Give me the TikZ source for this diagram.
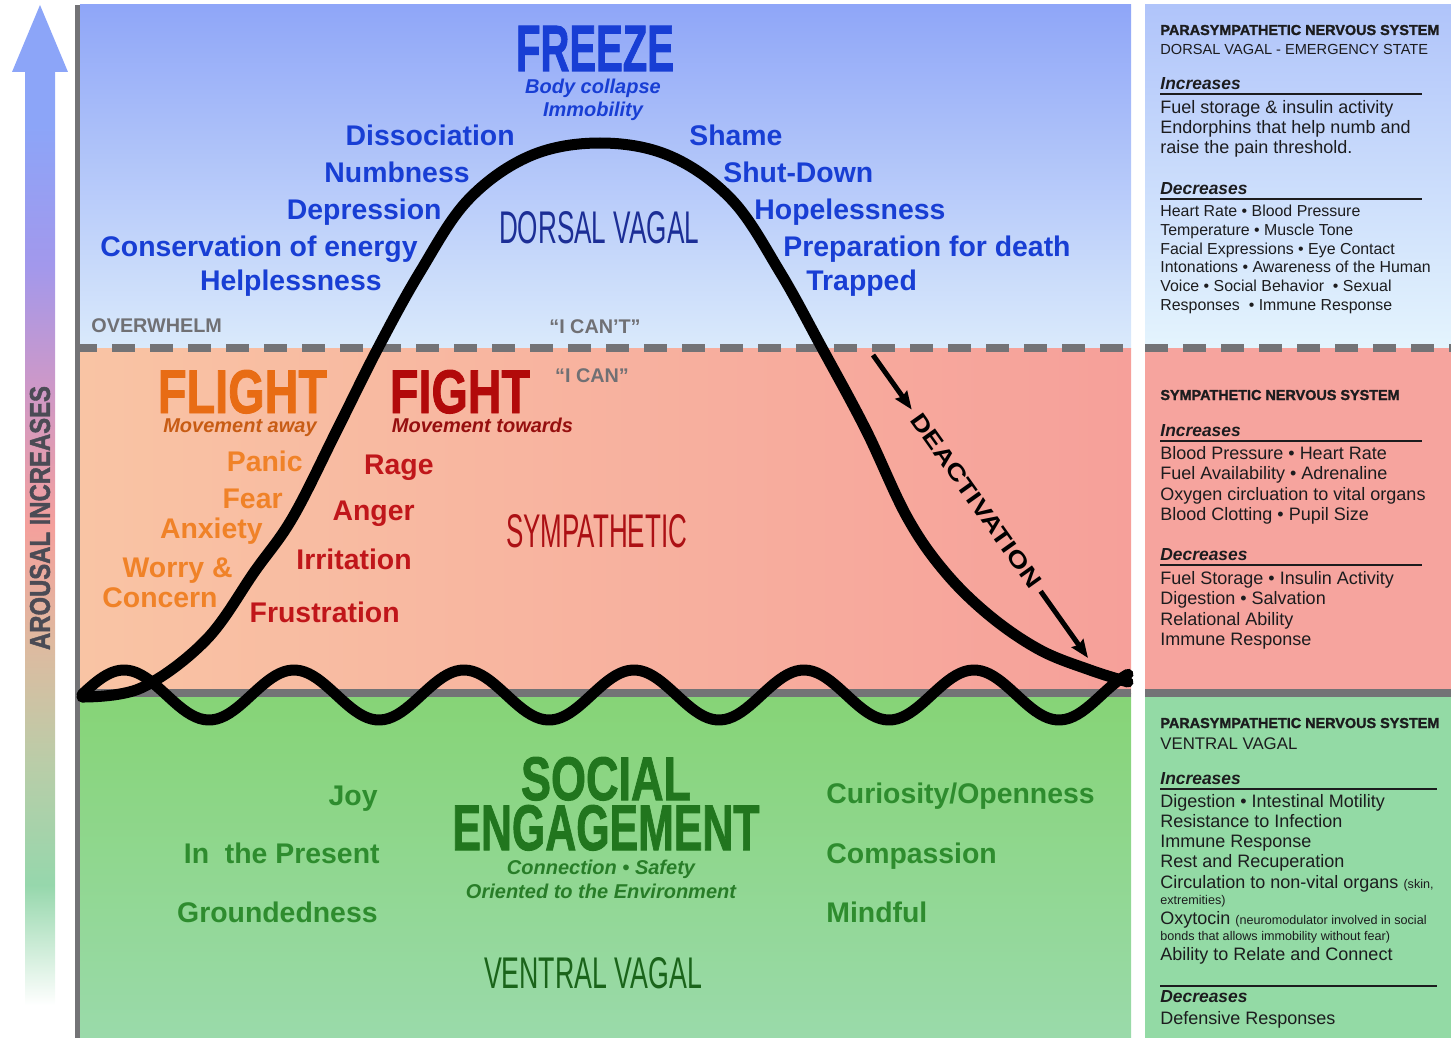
\documentclass[tikz,border=0pt]{standalone}
\usepackage{fontspec}
\setmainfont{Liberation Sans}
\newfontfamily\heavyfont[BoldFeatures={FakeBold=1.6}]{Liberation Sans}
\usepackage{graphicx}
\usetikzlibrary{arrows.meta,positioning,calc}

\definecolor{freezeblue}{RGB}{24,62,212}
\definecolor{dorsalnavy}{RGB}{28,46,150}
\definecolor{capgray}{RGB}{112,112,116}
\definecolor{flightorange}{RGB}{232,108,20}
\definecolor{flightsub}{RGB}{200,92,20}
\definecolor{flightword}{RGB}{240,130,40}
\definecolor{fightred}{RGB}{178,10,10}
\definecolor{fightsub}{RGB}{150,15,15}
\definecolor{fightword}{RGB}{192,22,26}
\definecolor{sympred}{RGB}{172,16,20}
\definecolor{socialgreen}{RGB}{33,118,30}
\definecolor{socialsub}{RGB}{40,125,40}
\definecolor{calmgreen}{RGB}{46,140,46}
\definecolor{ventralgreen}{RGB}{26,100,26}
\definecolor{panelink}{RGB}{28,28,30}
\definecolor{linegray}{RGB}{115,115,118}
\definecolor{arrowink}{RGB}{75,75,85}
\definecolor{frzTop}{RGB}{143,166,248}
\definecolor{frzBot}{RGB}{218,234,251}
\definecolor{sympLeft}{RGB}{249,196,164}
\definecolor{sympRight}{RGB}{246,160,154}
\definecolor{ventTop}{RGB}{134,212,118}
\definecolor{ventBot}{RGB}{154,218,170}
\definecolor{panelTop}{RGB}{176,196,250}
\definecolor{panelBot}{RGB}{228,244,253}
\definecolor{panelPink}{RGB}{246,164,158}
\definecolor{panelGreen}{RGB}{147,218,165}
\definecolor{arGreen}{RGB}{150,215,172}
\definecolor{arSage}{RGB}{185,205,168}
\definecolor{arTan}{RGB}{222,186,160}
\definecolor{arPink}{RGB}{244,160,156}
\definecolor{arMauve}{RGB}{205,152,200}
\definecolor{arViolet}{RGB}{162,152,236}
\definecolor{arBlue}{RGB}{140,165,248}

\pgfdeclareverticalshading{arousal}{100bp}{color(0bp)=(white); color(25bp)=(white); color(31bp)=(arGreen); color(37bp)=(arSage); color(43bp)=(arTan); color(49bp)=(arPink); color(56bp)=(arMauve); color(62bp)=(arViolet); color(69bp)=(arBlue); color(100bp)=(arBlue)}

\begin{document}
\begin{tikzpicture}[
    x=0.5pt, y=-0.5pt,
    word/.style={font=\fontsize{14.2}{17}\selectfont\bfseries, inner sep=0pt},
    frz/.style={word, text=freezeblue},
    flee/.style={word, text=flightword, anchor=base east},
    fgt/.style={word, text=fightword, anchor=base east},
    calm/.style={word, text=calmgreen},
    motto/.style={font=\fontsize{10}{12}\selectfont\bfseries\itshape, inner sep=0pt, anchor=base},
    threshold/.style={font=\fontsize{9.9}{12}\selectfont\bfseries, text=capgray, inner sep=0pt, anchor=base},
    titleword/.style={font=\heavyfont\bfseries, inner sep=0pt, anchor=base},
    zone/.style={font=\fontsize{20}{24}\selectfont, inner sep=0pt, anchor=base},
    curve/.style={line width=5.5pt, line cap=round, line join=round},
    bandline/.style={line width=4pt, linegray},
    phead/.style={font=\heavyfont\fontsize{7.2}{9}\selectfont\bfseries, text=panelink, inner sep=0pt, anchor=base west},
    psub/.style={font=\fontsize{7.3}{9}\selectfont, text=panelink, inner sep=0pt, anchor=base west},
    pkey/.style={font=\fontsize{8.7}{10}\selectfont\bfseries\itshape, text=panelink, inner sep=0pt, anchor=base west},
    plist/.style={font=\fontsize{9}{10}\selectfont, text=panelink, align=left, inner sep=0pt, anchor=north west},
    prule/.style={line width=0.8pt, panelink},
    deactarrow/.style={-{Stealth[length=9pt, width=7pt, inset=1pt]}, line width=2.5pt},
]
    \useasboundingbox (0,0) rectangle (1451,1038);

    \shade[top color=frzTop, bottom color=frzBot] (80,5) rectangle (1131,348);
    \shade[left color=sympLeft, right color=sympRight] (80,348) rectangle (1131,693);
    \shade[top color=ventTop, bottom color=ventBot] (80,693) rectangle (1131,1038);
    \shade[top color=panelTop, bottom color=panelBot] (1145,5) rectangle (1451,348);
    \fill[panelPink] (1145,348) rectangle (1451,693);
    \fill[panelGreen] (1145,693) rectangle (1451,1038);

    \shade[shading=arousal] (25,1005) -- (25,72) -- (12,72) -- (40,5) -- (68,72) -- (55,72) -- (55,1005) -- cycle;
    \node[rotate=90, font=\heavyfont\bfseries, text=arrowink, inner sep=0pt] (arousal) at (40,518) {\resizebox{132pt}{10pt}{AROUSAL INCREASES}};

    \draw[line width=2.5pt, linegray] (77.5,5) -- (77.5,1038);
    \draw[bandline, dash pattern=on 11.5pt off 7.5pt, dash phase=3pt] (80,348) -- (1131,348);
    \draw[bandline, dash pattern=on 11.5pt off 7.5pt] (1145,348) -- (1451,348);
    \draw[bandline] (80,693) -- (1131,693);
    \draw[bandline] (1145,693) -- (1451,693);

    \draw[curve] plot[smooth, tension=0.6] coordinates {(82,697) (141,688) (206,640) (255,571) (293,517) (337,430) (378,348) (420,272) (468,200) (530,156) (600,143) (670,156) (732,200) (780,272) (822,348) (866,430) (907,517) (945,572) (990,616) (1040,650) (1090,670) (1128,682)};
    \draw[curve] plot[domain=82:1128, samples=250] (\x, {695-25*cos(360*((\x-124)/170))});

    \coordinate (dtop) at (873,355);
    \coordinate (dbot) at (1088,658);
    \node[rotate=-54.6, inner sep=3.5pt, font=\fontsize{14}{16}\selectfont\bfseries] (deact) at ($(dtop)!0.48!(dbot)$) {\resizebox{104pt}{8pt}{DEACTIVATION}};
    \draw[deactarrow] (dtop) -- (deact);
    \draw[deactarrow] (deact) -- (dbot);

    \node[titleword, text=freezeblue] (freeze) at (595,71) {\resizebox{79pt}{22.5pt}{FREEZE}};
    \node[motto, text=freezeblue] (collapse) at (593,94) {Body collapse};
    \node[motto, text=freezeblue, below=11.5pt of collapse.base, anchor=base] (immobility) {Immobility};
    \node[frz, anchor=base east] (dissociation) at (515,146) {Dissociation};
    \node[frz, anchor=base east] (numbness) at (470,183) {Numbness};
    \node[frz, anchor=base east] (depression) at (442,219) {Depression};
    \node[frz, anchor=base east] (conservation) at (418,256) {Conservation of energy};
    \node[frz, anchor=base east] (helplessness) at (382,290) {Helplessness};
    \node[frz, anchor=base west] (shame) at (689,146) {Shame};
    \node[frz, anchor=base west] (shutdown) at (723,183) {Shut-Down};
    \node[frz, anchor=base west] (hopelessness) at (754,220) {Hopelessness};
    \node[frz, anchor=base west] (preparation) at (783,256) {Preparation for death};
    \node[frz, anchor=base west] (trapped) at (806,290) {Trapped};
    \node[zone, text=dorsalnavy] (dorsal) at (599,243) {\resizebox{100pt}{16pt}{DORSAL VAGAL}};

    \node[threshold, anchor=base west] (overwhelm) at (91,332) {OVERWHELM};
    \node[threshold] (icant) at (595,333) {“I CAN’T”};
    \node[threshold] (ican) at (592,382) {“I CAN”};

    \node[titleword, text=flightorange] (flight) at (242.5,413) {\resizebox{84.5pt}{21.5pt}{FLIGHT}};
    \node[motto, text=flightsub] (away) at (240,432) {Movement away};
    \node[titleword, text=fightred] (fight) at (460,413) {\resizebox{70pt}{21.5pt}{FIGHT}};
    \node[motto, text=fightsub] (towards) at (482.5,432) {Movement towards};
    \node[flee] (panic) at (303,471) {Panic};
    \node[flee] (fear) at (283,508) {Fear};
    \node[flee] (anxiety) at (263,538) {Anxiety};
    \node[flee] (worry) at (233,577) {Worry \&};
    \node[flee] (concern) at (218,607) {Concern};
    \node[fgt] (rage) at (434,474) {Rage};
    \node[fgt] (anger) at (415,520) {Anger};
    \node[fgt] (irritation) at (412,569) {Irritation};
    \node[fgt] (frustration) at (400,622) {Frustration};
    \node[zone, text=sympred] (sympathetic) at (596.5,547) {\resizebox{90.5pt}{16.5pt}{SYMPATHETIC}};

    \node[titleword, text=socialgreen] (social) at (606,800) {\resizebox{85pt}{21.5pt}{SOCIAL}};
    \node[titleword, text=socialgreen] (engagement) at (606,850) {\resizebox{153.5pt}{22.5pt}{ENGAGEMENT}};
    \node[motto, text=socialsub] (connection) at (601,874) {Connection • Safety};
    \node[motto, text=socialsub, below=12pt of connection.base, anchor=base] (oriented) {Oriented to the Environment};
    \node[zone, text=ventralgreen] (ventral) at (593,988) {\resizebox{109pt}{15.5pt}{VENTRAL VAGAL}};
    \node[calm, anchor=base east] (joy) at (378,805) {Joy};
    \node[calm, anchor=base east] (present) at (380,863) {In\ \ the Present};
    \node[calm, anchor=base east] (grounded) at (378,922) {Groundedness};
    \node[calm, anchor=base west] (curiosity) at (826,803) {Curiosity/Openness};
    \node[calm, anchor=base west] (compassion) at (826,863) {Compassion};
    \node[calm, anchor=base west] (mindful) at (826,922) {Mindful};

    \node[phead] (dtitle) at (1160,35) {PARASYMPATHETIC NERVOUS SYSTEM};
    \node[psub] (dstate) at (1160,55) {DORSAL VAGAL - EMERGENCY STATE};
    \node[pkey] (dinc) at (1160,90) {Increases};
    \draw[prule] (1160,94) -- (1422,94);
    \node[plist] (dinclist) at (1160,100) {Fuel storage \& insulin activity\\Endorphins that help numb and\\raise the pain threshold.};
    \node[pkey] (ddec) at (1160,194) {Decreases};
    \draw[prule] (1160,199) -- (1422,199);
    \node[plist, font=\fontsize{7.95}{9.4}\selectfont] (ddeclist) at (1160,204.5) {Heart Rate • Blood Pressure\\Temperature • Muscle Tone\\Facial Expressions • Eye Contact\\Intonations • Awareness of the Human\\Voice • Social Behavior\ \ • Sexual\\Responses\ \ • Immune Response};

    \node[phead] (stitle) at (1160,400) {SYMPATHETIC NERVOUS SYSTEM};
    \node[pkey] (sinc) at (1160,436) {Increases};
    \draw[prule] (1160,441) -- (1422,441);
    \node[plist, font=\fontsize{9}{10.15}\selectfont] (sinclist) at (1160,446) {Blood Pressure • Heart Rate\\Fuel Availability • Adrenaline\\Oxygen circluation to vital organs\\Blood Clotting • Pupil Size};
    \node[pkey] (sdec) at (1160,560) {Decreases};
    \draw[prule] (1160,565) -- (1422,565);
    \node[plist, font=\fontsize{9}{10.15}\selectfont] (sdeclist) at (1160,571) {Fuel Storage • Insulin Activity\\Digestion • Salvation\\Relational Ability\\Immune Response};

    \node[phead] (vtitle) at (1160,728) {PARASYMPATHETIC NERVOUS SYSTEM};
    \node[psub, font=\fontsize{8.4}{10}\selectfont] (vstate) at (1160,749) {VENTRAL VAGAL};
    \node[pkey] (vinc) at (1160,784) {Increases};
    \draw[prule] (1160,789) -- (1437,789);
    \node[plist] (vinclist) at (1160,794) {Digestion • Intestinal Motility\\Resistance to Infection\\Immune Response\\Rest and Recuperation\\[0.5pt]Circulation to non-vital organs {\fontsize{6.3}{7}\selectfont (skin,}\\[-2pt]{\fontsize{6.3}{7}\selectfont extremities)}\\Oxytocin {\fontsize{6.3}{7}\selectfont (neuromodulator involved in social}\\[-2pt]{\fontsize{6.3}{7}\selectfont bonds that allows immobility without fear)}\\Ability to Relate and Connect};
    \draw[prule] (1160,986) -- (1437,986);
    \node[pkey] (vdec) at (1160,1002) {Decreases};
    \node[plist, anchor=base west] (vdeclist) at (1160,1024) {Defensive Responses};
\end{tikzpicture}
\end{document}
